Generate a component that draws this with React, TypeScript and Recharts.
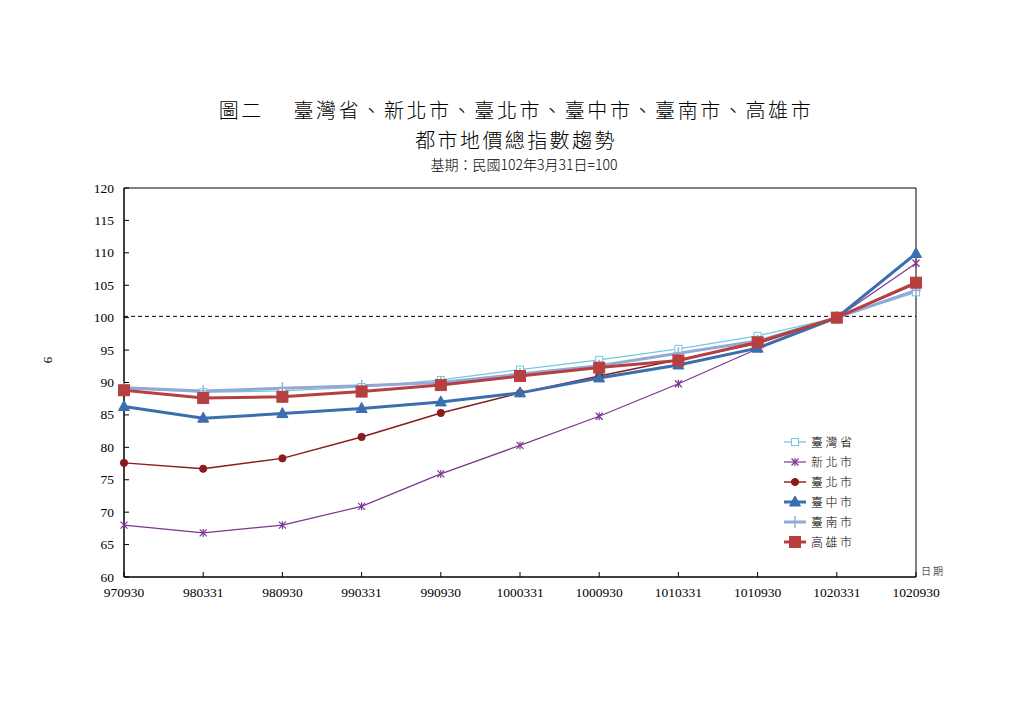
import React from 'react';
import { LineChart, Line, XAxis, YAxis, ReferenceLine, ReferenceArea, Legend } from 'recharts';

const categories = ['970930', '980331', '980930', '990331', '990930', '1000331', '1000930', '1010331', '1010930', '1020331', '1020930'];
const taiwanProvince = [89.1, 88.5, 88.7, 89.3, 90.4, 92.0, 93.5, 95.2, 97.2, 100, 103.9];
const newTaipei = [68.0, 66.8, 68.0, 70.9, 75.9, 80.3, 84.8, 89.8, 95.2, 100, 108.4];
const taipei = [77.6, 76.7, 78.3, 81.6, 85.3, 88.4, 91.0, 93.5, 96.0, 100, 105.2];
const taichung = [86.3, 84.5, 85.2, 86.0, 87.0, 88.4, 90.7, 92.7, 95.3, 100, 109.9];
const tainan = [89.2, 88.7, 89.1, 89.5, 90.0, 91.3, 92.6, 94.5, 96.4, 100, 104.2];
const kaohsiung = [88.8, 87.6, 87.8, 88.6, 89.6, 91.0, 92.3, 93.4, 96.2, 100, 105.4];
const yTicks = [60, 65, 70, 75, 80, 85, 90, 95, 100, 105, 110, 115, 120];

const seriesNames = ['臺灣省', '新北市', '臺北市', '臺中市', '臺南市', '高雄市'];

const data = categories.map((c, i) => ({
  date: c,
  s0: taiwanProvince[i],
  s1: newTaipei[i],
  s2: taipei[i],
  s3: taichung[i],
  s4: tainan[i],
  s5: kaohsiung[i],
}));

const C = {
  s0: '#72C9DD',
  s1: '#7E3592',
  s2: '#8A1A1C',
  s3: '#3B6EAF',
  s4: '#93A8D9',
  s5: '#B6403F',
};

const serifFont = '"Liberation Serif", "DejaVu Serif", serif';
const cjkFont = '"Noto Sans CJK TC", "Noto Sans CJK SC", sans-serif';

type MP = { cx?: number; cy?: number; index?: number };

const drawMarker = (kind: string, cx: number, cy: number, key?: string | number) => {
  switch (kind) {
    case 's0':
      return <rect key={key} x={cx - 3.5} y={cy - 3.5} width={7} height={7} fill="#fff" stroke={C.s0} strokeWidth={1} />;
    case 's1':
      return (
        <g key={key} stroke={C.s1} strokeWidth={1.2}>
          <line x1={cx - 3.5} y1={cy - 3.5} x2={cx + 3.5} y2={cy + 3.5} />
          <line x1={cx - 3.5} y1={cy + 3.5} x2={cx + 3.5} y2={cy - 3.5} />
          <line x1={cx} y1={cy - 4} x2={cx} y2={cy + 4} />
        </g>
      );
    case 's2':
      return <circle key={key} cx={cx} cy={cy} r={3.6} fill={C.s2} stroke={C.s2} />;
    case 's3':
      return <polygon key={key} points={`${cx},${cy - 6} ${cx - 5.5},${cy + 4} ${cx + 5.5},${cy + 4}`} fill={C.s3} stroke={C.s3} />;
    case 's4':
      return (
        <g key={key} stroke={C.s4} strokeWidth={1.4}>
          <line x1={cx - 5} y1={cy} x2={cx + 5} y2={cy} />
          <line x1={cx} y1={cy - 6} x2={cx} y2={cy + 6} />
        </g>
      );
    default:
      return <rect key={key} x={cx - 5.5} y={cy - 5.5} width={11} height={11} fill={C.s5} stroke={C.s5} />;
  }
};

const makeDot = (kind: string) => (p: MP) => {
  if (p.cx == null || p.cy == null) return <g key={`${kind}-${p.index}`} />;
  return drawMarker(kind, p.cx, p.cy, `${kind}-${p.index}`);
};

const widths: Record<string, number> = { s0: 1.3, s1: 1.2, s2: 1.4, s3: 3, s4: 3, s5: 3 };

const XTick = (props: any) => {
  const { x, y, payload } = props;
  return (
    <g>
      <line x1={x} y1={y} x2={x} y2={y - 5} stroke="#000" strokeWidth={1} />
      <text x={x} y={y + 20} textAnchor="middle" fontSize={13.5} fontFamily={serifFont} fill="#000">
        {payload.value}
      </text>
    </g>
  );
};

const YTick = (props: any) => {
  const { x, y, payload } = props;
  return (
    <g>
      <line x1={x} y1={y} x2={x + 5} y2={y} stroke="#000" strokeWidth={1} />
      <text x={x - 10} y={y + 4.5} textAnchor="end" fontSize={13.5} fontFamily={serifFont} fill="#000">
        {payload.value}
      </text>
    </g>
  );
};

const LegendContent = () => (
  <svg width={90} height={125}>
    {seriesNames.map((name, i) => {
      const k = `s${i}`;
      const y = 9 + i * 20;
      return (
        <g key={k}>
          <line x1={4} y1={y} x2={26} y2={y} stroke={(C as any)[k]} strokeWidth={widths[k]} />
          {drawMarker(k, 15, y)}
          <text x={31} y={y + 4.5} fontSize={12} fontWeight={300} fontFamily={cjkFont} fill="#000" letterSpacing={2.5}>
            {name}
          </text>
        </g>
      );
    })}
  </svg>
);

export default function App() {
  return (
    <div style={{ position: 'absolute', left: 0, top: 0, width: 1024, height: 724, background: '#fff' }}>
      <div style={{ position: 'absolute', left: 0, top: 96, width: 1032, textAlign: 'center', fontFamily: cjkFont, fontWeight: 300, fontSize: 20, lineHeight: '28px', letterSpacing: 2.6, color: '#000' }}>
        圖二　 臺灣省、新北市、臺北市、臺中市、臺南市、高雄市
      </div>
      <div style={{ position: 'absolute', left: 0, top: 126, width: 1032, textAlign: 'center', fontFamily: cjkFont, fontWeight: 300, fontSize: 20, lineHeight: '28px', letterSpacing: 2.4, color: '#000' }}>
        都市地價總指數趨勢
      </div>
      <div style={{ position: 'absolute', left: 0, top: 155, width: 1048, textAlign: 'center', fontFamily: cjkFont, fontWeight: 300, fontSize: 14, lineHeight: '18px', color: '#000' }}>
        基期：民國102年3月31日=100
      </div>
      <div style={{ position: 'absolute', left: 40, top: 352, width: 16, height: 16, fontFamily: serifFont, fontSize: 13, lineHeight: '16px', textAlign: 'center', transform: 'rotate(90deg)', color: '#000' }}>
        9
      </div>
      <div style={{ position: 'absolute', left: 921, top: 564, fontFamily: cjkFont, fontWeight: 300, fontSize: 10, lineHeight: '14px', letterSpacing: 2, color: '#000' }}>
        日期
      </div>
      <LineChart
        width={1024}
        height={724}
        data={data}
        margin={{ top: 188, right: 108, bottom: 117, left: 84 }}
      >
        <XAxis
          dataKey="date"
          interval={0}
          tickSize={0}
          tickMargin={0}
          tickLine={false}
          tick={<XTick />}
          height={30}
          axisLine={{ stroke: '#000', strokeWidth: 1 }}
        />
        <YAxis
          domain={[60, 120]}
          ticks={yTicks}
          interval={0}
          tickSize={0}
          tickMargin={0}
          tickLine={false}
          tick={<YTick />}
          width={40}
          axisLine={{ stroke: '#000', strokeWidth: 1 }}
        />
        <ReferenceArea x1={categories[0]} x2={categories[categories.length - 1]} y1={60} y2={120} fill="none" stroke="#000" strokeWidth={1} ifOverflow="visible" />
        <ReferenceLine y={100.2} stroke="#000" strokeDasharray="4 3" strokeWidth={1} />
        {['s0', 's4', 's1', 's2', 's3', 's5'].map((k) => (
          <Line
            key={k}
            type="linear"
            dataKey={k}
            name={seriesNames[Number(k[1])]}
            stroke={(C as any)[k]}
            strokeWidth={widths[k]}
            dot={makeDot(k)}
            activeDot={false}
            isAnimationActive={false}
          />
        ))}
        <Legend
          layout="vertical"
          align="center"
          verticalAlign="middle"
          content={<LegendContent />}
          wrapperStyle={{ position: 'absolute', left: 780, top: 433, width: 90, height: 125 }}
        />
      </LineChart>
    </div>
  );
}
